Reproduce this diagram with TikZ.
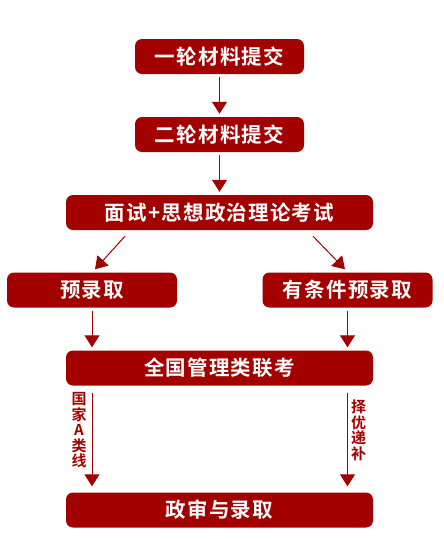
\documentclass[tikz,border=0pt]{standalone}
\usepackage{fontspec}
\newfontfamily\cjk{Noto Sans CJK SC}[BoldFont={Noto Sans CJK SC Bold}]
\newfontfamily\cjkwide{Noto Sans CJK SC}[BoldFont={Noto Sans CJK SC Bold}, LetterSpace=6]
\usetikzlibrary{arrows.meta}
\definecolor{zred}{HTML}{A30000}

\begin{document}
\begin{tikzpicture}[
  x=1pt, y=-1pt,
  stage/.style={fill=zred, rounded corners=7pt, text=white, inner sep=0pt,
    font=\cjkwide\bfseries\fontsize{20.5}{24}\selectfont, minimum height=35pt},
  flow/.style={draw=zred, line width=1pt, shorten <=3pt, shorten >=3pt,
    -{Triangle[width=15pt,length=12pt]}},
  side/.style={text=zred, font=\cjk\bfseries\fontsize{15}{15.5}\selectfont, align=center, inner sep=0pt}
]
\useasboundingbox (0,0) rectangle (444,539);

\node [stage, minimum width=169pt] (round1) at (219.5,56.5) {一轮材料提交};
\node [stage, minimum width=169pt] (round2) at (219.5,134.5) {二轮材料提交};
\node [stage, minimum width=307pt] (interview) at (219.5,212.5) {面试+思想政治理论考试};
\node [stage, minimum width=170pt] (pre) at (92,290) {预录取};
\node [stage, minimum width=170pt] (condpre) at (347.5,290) {有条件预录取};
\node [stage, minimum width=307pt] (exam) at (219.5,368) {全国管理类联考};
\node [stage, minimum width=307pt] (admit) at (219.5,510) {政审与录取};

\draw [flow] (round1) -- (round2);
\draw [flow] (round2) -- (interview);
\draw [flow, shorten <=0pt, shorten >=0pt] ([shift={(-94.5,6)}]interview.south) -- ([shift={(3,-3)}]pre.north);
\draw [flow, shorten <=0pt, shorten >=0pt] ([shift={(93.5,6)}]interview.south) -- ([shift={(-2.5,-3)}]condpre.north);
\draw [flow] (pre.south) -- (pre.south |- exam.north);
\draw [flow] (condpre.south) -- (condpre.south |- exam.north);

% A-line and substitute routes
\draw [flow, shorten <=7pt, shorten >=6pt] (exam.south -| pre.south) -- (admit.north -| pre.south)
  node [side, pos=0.42, left=5pt] {国\\家\\A\\类\\线};
\draw [flow, shorten <=7pt, shorten >=6pt] (exam.south -| condpre.south) -- (admit.north -| condpre.south)
  node [side, pos=0.42, right=3pt] {择\\优\\递\\补};
\end{tikzpicture}
\end{document}
